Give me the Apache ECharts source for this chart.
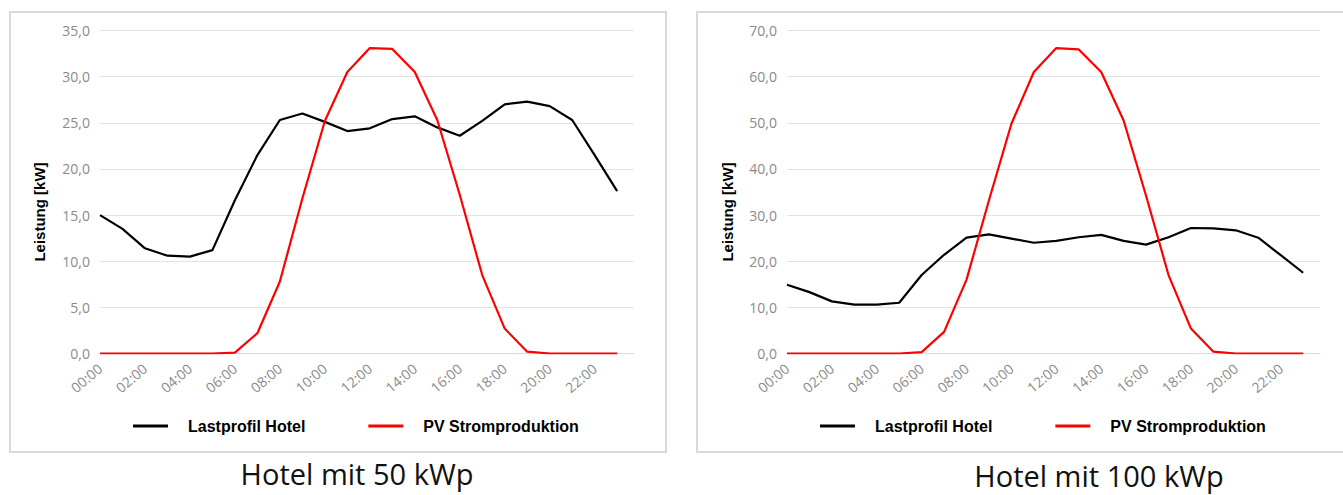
<!DOCTYPE html>
<html><head><meta charset="utf-8">
<script src="https://cdn.jsdelivr.net/npm/echarts@6/dist/echarts.min.js"></script>
<style>html,body{margin:0;padding:0;background:#fff}#c{width:1343px;height:495px}</style>
</head><body><div id="c"></div>
<script>
const hours = ['00:00','01:00','02:00','03:00','04:00','05:00','06:00','07:00','08:00','09:00','10:00','11:00',
               '12:00','13:00','14:00','15:00','16:00','17:00','18:00','19:00','20:00','21:00','22:00','23:00'];
const seriesNames = ['Lastprofil Hotel', 'PV Stromproduktion'];
const panelTitles = ['Hotel mit 50 kWp', 'Hotel mit 100 kWp'];
const axisTitle = 'Leistung [kW]';
// Hotel mit 50 kWp
const load50 = [15.0,13.5,11.4,10.6,10.5,11.2,16.6,21.5,25.3,26.0,25.1,24.1,24.4,25.4,25.7,24.5,23.6,25.2,27.0,27.3,26.8,25.3,21.5,17.6];
const pv50   = [0,0,0,0,0,0,0.1,2.2,7.8,16.8,25.2,30.5,33.1,33.0,30.5,25.3,17.2,8.5,2.7,0.2,0,0,0,0];
// Hotel mit 100 kWp
const load100 = [14.9,13.3,11.3,10.6,10.6,11.0,17.0,21.4,25.1,25.8,24.9,24.0,24.4,25.2,25.7,24.4,23.6,25.2,27.2,27.1,26.7,25.1,21.3,17.5];
const pv100   = [0,0,0,0,0,0,0.3,4.7,16.0,33.2,49.8,61.0,66.2,65.9,61.0,50.5,34.2,17.0,5.4,0.4,0,0,0,0];
const yMax = [35, 70];
const yStep = [5, 10];

const pairs = arr => arr.map((v, i) => [i, v]);
const grid = [
  {left: 100, top: 30.5, width: 534, height: 323},
  {left: 787, top: 30.5, width: 533, height: 323}
];
const labelFont = {color: '#8a8a8a', fontFamily: 'Open Sans', fontSize: 14};
const xAxes = [0, 1].map(g => ({
  type: 'value', gridIndex: g, min: 0, max: 23.75, interval: 2,
  axisLine: {show: true, lineStyle: {color: '#d9d9d9', width: 1}},
  axisTick: {show: false}, splitLine: {show: false},
  axisLabel: Object.assign({}, labelFont, {
    rotate: 40, margin: 13, showMaxLabel: false, showMinLabel: true,
    formatter: v => (Number.isInteger(v) && v % 2 === 0 && v < 24) ? hours[v] : ''
  })
}));
const yAxes = [0, 1].map(g => ({
  type: 'value', gridIndex: g, min: 0, max: yMax[g], interval: yStep[g],
  axisLine: {show: false}, axisTick: {show: false},
  splitLine: {lineStyle: {color: '#e3e3e3', width: 1}},
  axisLabel: Object.assign({}, labelFont, {margin: 10, formatter: v => v.toFixed(1).replace('.', ',')})
}));
const mk = (name, data, g, color) => ({
  name, type: 'line', xAxisIndex: g, yAxisIndex: g, data: pairs(data),
  showSymbol: false, symbol: 'none', lineStyle: {color, width: 2.2}, itemStyle: {color},
  emphasis: {disabled: true}, animation: false
});
const legendBase = {
  icon: 'rect', itemWidth: 35, itemHeight: 3, itemGap: 63, orient: 'horizontal',
  textStyle: {fontFamily: 'Liberation Sans', fontWeight: 'bold', fontSize: 16, color: '#000', padding: [0, 0, 0, 15]},
  data: seriesNames
};
const titleStyle = {fontFamily: 'Open Sans', fontWeight: 'normal', fontSize: 29, lineHeight: 29, color: '#111'};
const chart = echarts.init(document.getElementById('c'), null, {renderer: 'svg'});
chart.setOption({
  animation: false,
  grid,
  xAxis: xAxes,
  yAxis: yAxes,
  series: [
    mk(seriesNames[0], load50, 0, '#000000'),
    mk(seriesNames[1], pv50, 0, '#ff0000'),
    mk(seriesNames[0], load100, 1, '#000000'),
    mk(seriesNames[1], pv100, 1, '#ff0000')
  ],
  legend: [
    Object.assign({}, legendBase, {left: 128, top: 413}),
    Object.assign({}, legendBase, {left: 815, top: 413})
  ],
  title: [
    {text: panelTitles[0], left: 357, top: 459, padding: 0, textAlign: 'center', textStyle: titleStyle},
    {text: panelTitles[1], left: 1099, top: 461, padding: 0, textAlign: 'center', textStyle: titleStyle}
  ],
  graphic: [
    {type: 'rect', shape: {x: 10, y: 12, width: 656, height: 440}, style: {fill: 'none', stroke: '#d9d9d9', lineWidth: 2}, silent: true},
    {type: 'rect', shape: {x: 697, y: 12, width: 660, height: 440}, style: {fill: 'none', stroke: '#d9d9d9', lineWidth: 2}, silent: true},
    {type: 'text', x: 39, y: 212, rotation: Math.PI / 2,
     style: {text: axisTitle, fontFamily: 'Liberation Sans', fontWeight: 'bold', fontSize: 15, fill: '#000', textAlign: 'center', textVerticalAlign: 'middle'}},
    {type: 'text', x: 727, y: 212, rotation: Math.PI / 2,
     style: {text: axisTitle, fontFamily: 'Liberation Sans', fontWeight: 'bold', fontSize: 15, fill: '#000', textAlign: 'center', textVerticalAlign: 'middle'}}
  ]
});
</script></body></html>
